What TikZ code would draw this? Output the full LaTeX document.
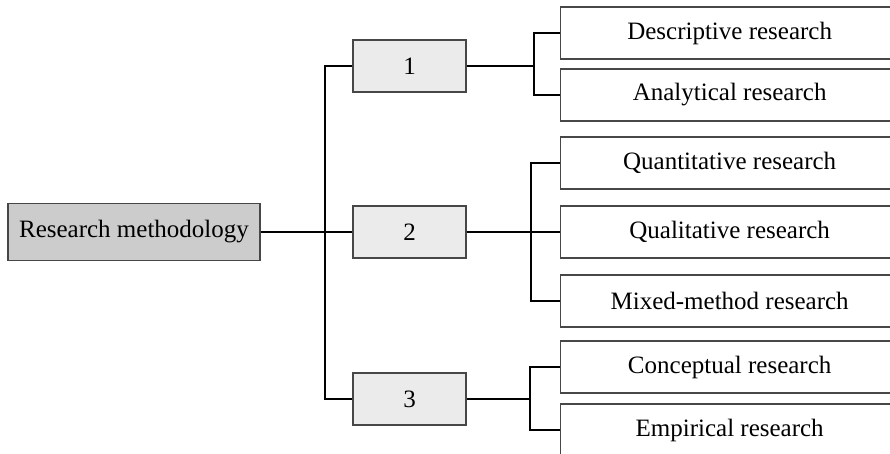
\documentclass[tikz,border=0pt]{standalone}
\usepackage{fontspec}
\setmainfont{Liberation Serif}
\begin{document}
\begin{tikzpicture}[x=1pt,y=-1pt,
  base/.style={draw=black!72,line width=1.3pt,inner sep=0pt,
    font=\fontsize{25}{30}\selectfont},
  rootbox/.style={base,fill=black!20,minimum width=252pt,minimum height=57pt},
  numbox/.style={base,fill=black!8,minimum width=113pt,minimum height=52pt},
  leafbox/.style={base,fill=white,minimum width=338pt,minimum height=52pt,anchor=west},
  link/.style={line width=2pt,black}]
\useasboundingbox (0,0) rectangle (890,453);
\clip (0,0) rectangle (890,453);

% root and the three groups
\node[rootbox] (root) at (134,232) {Research methodology};
\node[numbox] (n1) at (409.5,66) {1};
\node[numbox] (n2) at (409.5,232) {2};
\node[numbox] (n3) at (409.5,399) {3};

% leaf boxes
\node[leafbox] (r1) at (560,33) {Descriptive research};
\node[leafbox] (r2) at (560,95) {Analytical research};
\node[leafbox] (r3) at (560,163) {Quantitative research};
\node[leafbox] (r4) at (560,232) {Qualitative research};
\node[leafbox] (r5) at (560,301) {Mixed-method research};
\node[leafbox] (r6) at (560,367) {Conceptual research};
\node[leafbox] (r7) at (560,430) {Empirical research};

% junction points
\coordinate (t) at (325,232);
\coordinate (j1) at (534,66);
\coordinate (j2) at (531,232);
\coordinate (j3) at (530,399);

% trunk
\draw[link] (root.east) -- (n2.west);
\draw[link] (n1.west) -| (t) |- (n3.west);

% branches
\draw[link] (n1.east) -- (j1);
\draw[link] (r1.west) -| (j1) |- (r2.west);
\draw[link] (n2.east) -- (r4.west);
\draw[link] (r3.west) -| (j2) |- (r5.west);
\draw[link] (n3.east) -- (j3);
\draw[link] (r6.west) -| (j3) |- (r7.west);
\end{tikzpicture}
\end{document}
